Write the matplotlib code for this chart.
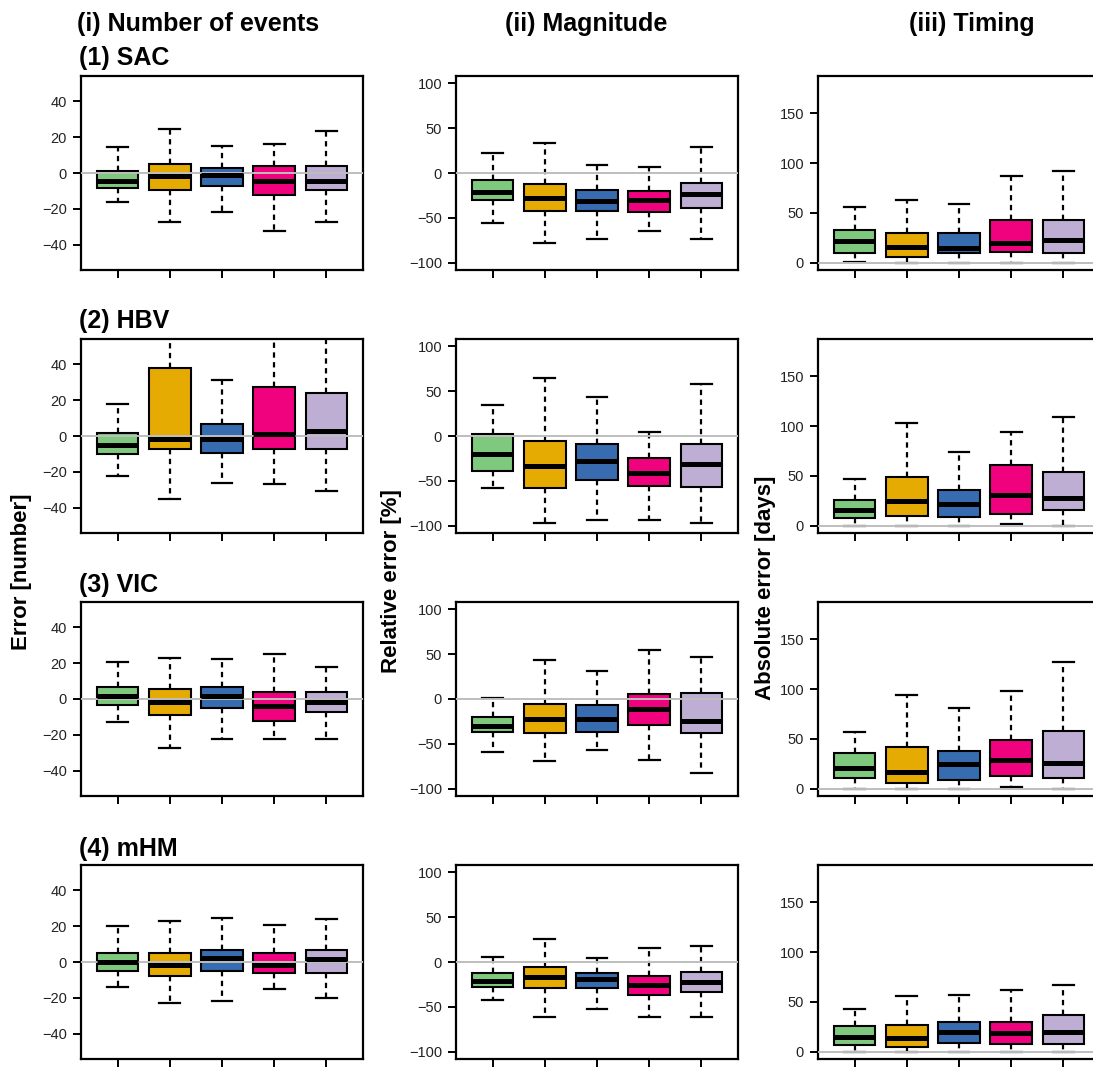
import matplotlib
matplotlib.use("Agg")
import matplotlib.pyplot as plt

plt.rcParams['font.family'] = ['Liberation Sans', 'DejaVu Sans']

models = ['(1) SAC', '(2) HBV', '(3) VIC', '(4) mHM']
col_titles = ['(i) Number of events', '(ii) Magnitude', '(iii) Timing']
y_labels = ['Error [number]', 'Relative error [%]', 'Absolute error [days]']
colors = ['#7FC97F', '#E6AB02', '#386CB0', '#F0027F', '#BEAED4']

# box statistics, one row per model, one value per box (5 boxes)
# (i) number of events
events_low = [[-16, -27.5, -21.5, -32.5, -27.4],
              [-22.4, -35.3, -26.2, -26.9, -30.5],
              [-13, -27, -22, -22, -22],
              [-13.9, -23, -21.7, -15, -20.2]]
events_q1 = [[-8.5, -9.4, -7.4, -12.3, -9.4],
             [-10.1, -7.3, -9.3, -7.3, -7.3],
             [-3.2, -8.7, -5.2, -12.1, -7.1],
             [-5.2, -7.6, -5.2, -5.9, -5.9]]
events_med = [[-4.2, -1.5, -1.0, -4.7, -4.2],
              [-5, -1.7, -1.9, 1.1, 2.8],
              [1.7, -1.9, 1.5, -4.1, -1.5],
              [0.2, -1.5, 2.2, -1.5, 1.5]]
events_q3 = [[1, 4.9, 2.8, 4, 4],
             [1.9, 37.6, 6.7, 27.1, 24.1],
             [6.9, 5.4, 6.9, 4.1, 4.1],
             [4.8, 4.8, 6.9, 4.8, 6.5]]
events_high = [[14.2, 24.3, 15, 16, 23.2],
               [17.9, 90, 31.4, 75, 70],
               [20.8, 23.1, 22, 25.1, 17.9],
               [19.8, 23, 24.6, 20.7, 23.7]]

# (ii) magnitude
mag_low = [[-56, -78, -73, -65, -73.9],
           [-57.8, -96.6, -94, -93.3, -96.6],
           [-59, -69, -56.7, -67.9, -82.5],
           [-42.2, -60.8, -51.9, -61.2, -61.6]]
mag_q1 = [[-30.6, -42.5, -41.8, -43.3, -38.8],
          [-38.8, -57.8, -49.3, -55.2, -56.3],
          [-36.9, -37.7, -36.9, -28.7, -38.4],
          [-27.6, -28.7, -28.4, -36.2, -33.2]]
mag_med = [[-21.3, -28, -31.3, -30.6, -23.9],
           [-20.5, -33.2, -28, -41, -31.3],
           [-30.6, -22.8, -22.8, -10.8, -24.6],
           [-21.3, -16.8, -19.4, -26.1, -22.8]]
mag_q3 = [[-8.2, -11.9, -19.4, -20.1, -11.6],
          [2.2, -5.2, -8.6, -24.6, -9],
          [-20.1, -5.2, -7.1, 5.6, 6.3],
          [-12.3, -5.2, -12.3, -15.3, -10.8]]
mag_high = [[22.4, 33.6, 9.3, 6.3, 29.1],
            [34.3, 64.2, 43.7, 4.1, 57.8],
            [0.7, 42.9, 31, 54.5, 46.6],
            [5.6, 26.1, 4.5, 15.3, 18.3]]

# (iii) timing
time_low = [[1.3, 0, 0, 0, 0],
            [0, 0, 0, 1.7, 0],
            [0, 0, 0, 1.7, 0],
            [0, 0, 0, 0, 0]]
time_q1 = [[9.4, 6, 9.4, 11, 9.4],
           [7.7, 9.4, 8.4, 12, 16.1],
           [10.4, 6, 9, 12.7, 10.4],
           [6.7, 4.4, 8.7, 7.7, 7.4]]
time_med = [[22.1, 15.4, 14.4, 19.4, 22.8],
            [15.4, 24.4, 21.8, 31.1, 28.1],
            [20.8, 17.1, 24.4, 28.5, 25.4],
            [15.1, 13.4, 19.5, 18.8, 20.1]]
time_q3 = [[32.8, 29.5, 29.5, 42.9, 42.9],
           [25.4, 48.5, 36.2, 60.6, 53.9],
           [35.8, 42.2, 37.8, 49.2, 57.9],
           [25.5, 26.5, 29.5, 29.9, 37.2]]
time_high = [[56.3, 63, 59, 87.4, 91.8],
             [47.2, 103.4, 74, 94.4, 109.5],
             [57.2, 93.7, 80.7, 98.4, 127.2],
             [43.3, 56, 57, 62.4, 67.1]]

metrics = [(events_low, events_q1, events_med, events_q3, events_high),
           (mag_low, mag_q1, mag_med, mag_q3, mag_high),
           (time_low, time_q1, time_med, time_q3, time_high)]
y_limits = [(-54, 54), (-108, 108), (-7.2, 187.2)]
y_ticks = [[-40, -20, 0, 20, 40], [-100, -50, 0, 50, 100], [0, 50, 100, 150]]

W, H = 1093, 1068
fig = plt.figure(figsize=(W / 100, H / 100), dpi=100)

col_left = [81, 456, 818]
row_bottom = [270, 533, 796, 1059]
ax_w, ax_h = 282, 194

for r in range(4):
    for c in range(3):
        ax = fig.add_axes([col_left[c] / W, 1 - row_bottom[r] / H, ax_w / W, ax_h / H])
        low, q1, med, q3, high = metrics[c]
        stats = []
        for k in range(5):
            stats.append(dict(whislo=low[r][k], q1=q1[r][k], med=med[r][k],
                              q3=q3[r][k], whishi=high[r][k]))
        bp = ax.bxp(stats, positions=range(1, 6), widths=0.8, capwidths=0.4,
                    showfliers=False, patch_artist=True,
                    boxprops=dict(edgecolor='black', linewidth=1.5),
                    whiskerprops=dict(color='black', linewidth=1.6,
                                      linestyle=(0, (2.4, 2.0))),
                    capprops=dict(color='black', linewidth=1.6),
                    medianprops=dict(color='black', linewidth=3.6,
                                     solid_capstyle='butt', zorder=4))
        for patch, col in zip(bp['boxes'], colors):
            patch.set_facecolor(col)
        ax.axhline(0, color='#BEBEBE', linewidth=1.4, zorder=3)

        ax.set_xlim(0.3, 5.7)
        ax.set_ylim(*y_limits[c])
        ax.set_xticks(range(1, 6))
        ax.set_xticklabels([])
        ax.set_yticks(y_ticks[c])
        ax.tick_params(direction='out', length=6, width=1.4, labelsize=10.5,
                       labelcolor='#222222', pad=4)
        for s in ax.spines.values():
            s.set_linewidth(1.6)

        if c == 0:
            fig.text(79 / W, 1 - (57.5 + r * 263.8) / H, models[r],
                     fontsize=18, fontweight='bold', ha='left', va='center')

title_x = [77, 505, 909]
for c in range(3):
    fig.text(title_x[c] / W, 1 - 24 / H, col_titles[c], fontsize=18,
             fontweight='bold', ha='left', va='center')

label_pos = [(22, 572), (391, 581), (765, 588)]
for c in range(3):
    x, y = label_pos[c]
    fig.text(x / W, 1 - y / H, y_labels[c], fontsize=16, fontweight='bold',
             rotation=90, ha='center', va='center')

fig.savefig('out.png', dpi=100)
